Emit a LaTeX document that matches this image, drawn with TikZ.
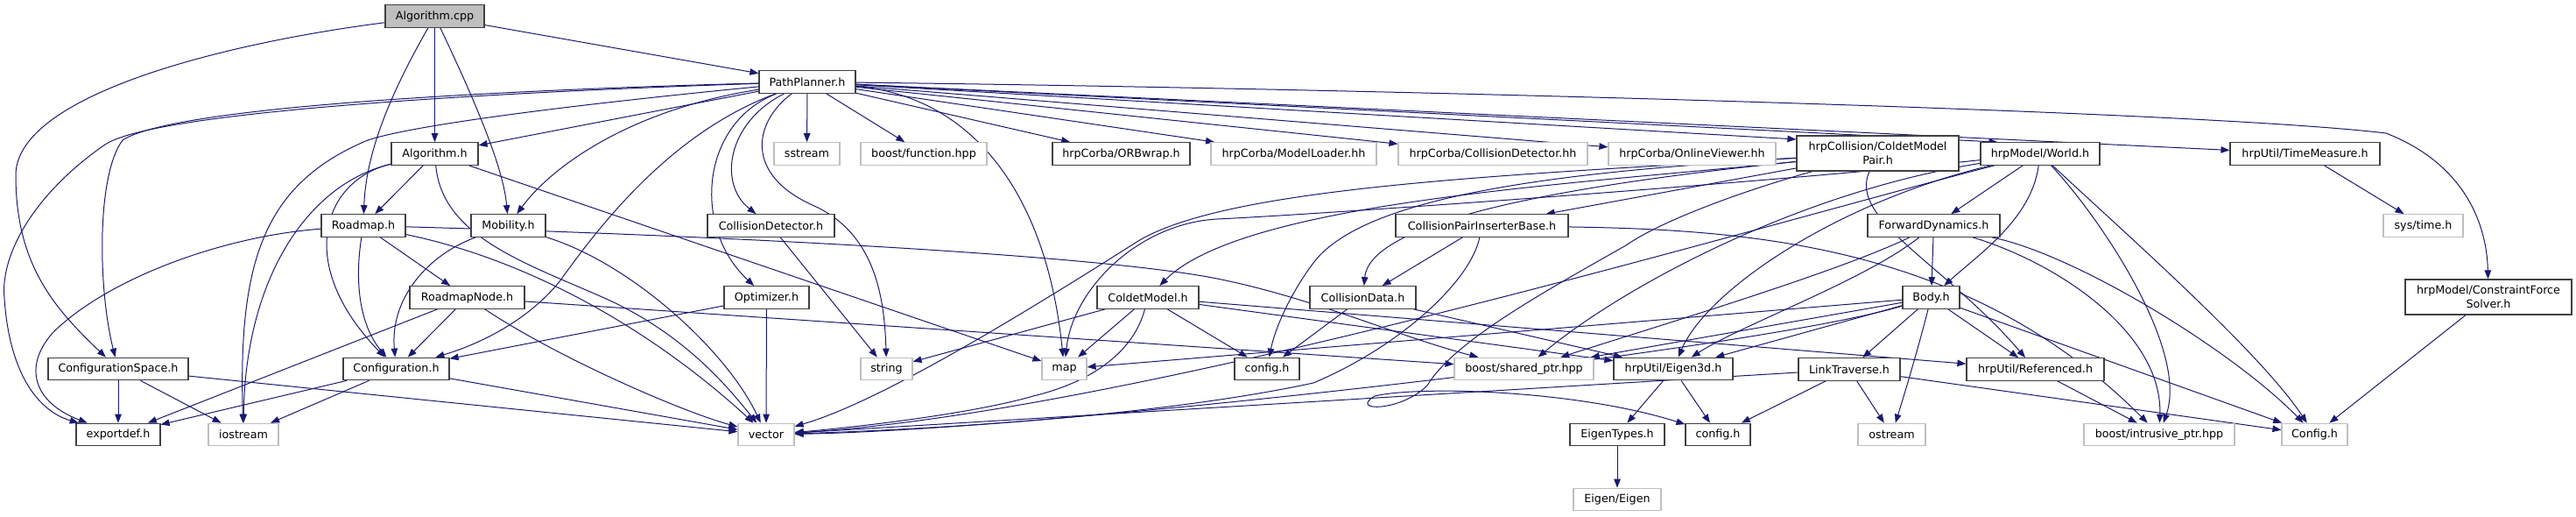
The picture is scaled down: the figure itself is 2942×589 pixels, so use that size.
\documentclass[tikz,border=0pt]{standalone}
\usepackage{fontspec}
\setmainfont{DejaVu Sans}
\usetikzlibrary{arrows.meta,calc}
\definecolor{edgec}{HTML}{191970}
\definecolor{docb}{HTML}{404040}
\definecolor{extb}{HTML}{BFBFBF}
\definecolor{srcf}{HTML}{BFBFBF}
\pgfdeclarelayer{edgelayer}
\pgfsetlayers{edgelayer,main}
\begin{document}
\begin{tikzpicture}[x=1pt,y=-1pt,
  doc/.style={draw=docb, line width=1.2pt, fill=white, font=\fontsize{12.7}{15.5}\selectfont,
    minimum height=25.5pt, inner xsep=2pt, inner ysep=0pt, align=center},
  ext/.style={doc, draw=extb},
  srcnode/.style={doc, fill=srcf},
  edge/.style={draw=edgec, line width=1pt, -{Triangle[length=10pt,width=7.5pt]}}]
\useasboundingbox (0,0) rectangle (2942,589);
% nodes
\node[srcnode, minimum width=113pt] (acpp) at (496.5,18.5) {Algorithm.cpp};
\node[doc, minimum width=110pt] (pp) at (922,93.5) {PathPlanner.h};
\node[doc, minimum width=99pt] (algh) at (496.5,175.5) {Algorithm.h};
\node[doc, minimum width=96pt] (roadmap) at (415,257.5) {Roadmap.h};
\node[doc, minimum width=85pt] (mobility) at (580.5,257.5) {Mobility.h};
\node[ext, minimum width=75pt] (sstream) at (921.5,175.5) {sstream};
\node[doc, minimum width=145pt] (colldet) at (880.5,257.5) {CollisionDetector.h};
\node[ext, minimum width=144pt] (bfunc) at (1055,175.5) {boost/function.hpp};
\node[doc, minimum width=157pt] (orb) at (1280.5,175.5) {hrpCorba/ORBwrap.h};
\node[ext, minimum width=189pt] (mload) at (1477.5,175.5) {hrpCorba/ModelLoader.hh};
\node[ext, minimum width=216pt] (cdhh) at (1705,175.5) {hrpCorba/CollisionDetector.hh};
\node[ext, minimum width=191pt] (ovhh) at (1932.5,175.5) {hrpCorba/OnlineViewer.hh};
\node[doc, minimum width=185pt, minimum height=40pt] (cmp) at (2144.5,175) {hrpCollision/ColdetModel\\Pair.h};
\node[doc, minimum width=136pt] (world) at (2330,175.5) {hrpModel/World.h};
\node[doc, minimum width=171pt] (tm) at (2632.5,175.5) {hrpUtil/TimeMeasure.h};
\node[ext, minimum width=91pt] (systime) at (2767.5,257.5) {sys/time.h};
\node[doc, minimum width=190pt, minimum height=40pt] (cfs) at (2842,339) {hrpModel/ConstraintForce\\Solver.h};
\node[ext, minimum width=75pt] (Config) at (2643.5,496) {Config.h};
\node[ext, minimum width=172pt] (intr) at (2466,496) {boost/intrusive\_ptr.hpp};
\node[doc, minimum width=151pt] (fd) at (2208.5,257.5) {ForwardDynamics.h};
\node[doc, minimum width=65pt] (body) at (2205.5,339.5) {Body.h};
\node[doc, minimum width=116pt] (lt) at (2112,421.5) {LinkTraverse.h};
\node[doc, minimum width=157pt] (ref) at (2324.5,421.5) {hrpUtil/Referenced.h};
\node[ext, minimum width=77pt] (ostream) at (2160.5,496) {ostream};
\node[doc, minimum width=74pt] (configB) at (1962,496) {config.h};
\node[doc, minimum width=136pt] (eigen3d) at (1911,421) {hrpUtil/Eigen3d.h};
\node[doc, minimum width=108pt] (etypes) at (1847,496) {EigenTypes.h};
\node[ext, minimum width=100pt] (eigen) at (1847,570) {Eigen/Eigen};
\node[ext, minimum width=159pt] (sptr) at (1740.5,421) {boost/shared\_ptr.hpp};
\node[doc, minimum width=121pt] (cdata) at (1556.5,339.5) {CollisionData.h};
\node[doc, minimum width=74pt] (configA) at (1447,421) {config.h};
\node[doc, minimum width=197pt] (cpib) at (1692.5,257.5) {CollisionPairInserterBase.h};
\node[doc, minimum width=116pt] (cmodel) at (1311,339.5) {ColdetModel.h};
\node[ext, minimum width=51pt] (map) at (1215.5,421) {map};
\node[ext, minimum width=59pt] (string) at (1012.5,421) {string};
\node[doc, minimum width=97pt] (opt) at (875.5,339.5) {Optimizer.h};
\node[ext, minimum width=64pt] (vector) at (875,496) {vector};
\node[doc, minimum width=131pt] (rmn) at (533.5,339.5) {RoadmapNode.h};
\node[doc, minimum width=121pt] (conf) at (452.5,421) {Configuration.h};
\node[doc, minimum width=160pt] (cspace) at (135,421) {ConfigurationSpace.h};
\node[doc, minimum width=96pt] (export) at (135,496) {exportdef.h};
\node[ext, minimum width=80pt] (iostream) at (278,496) {iostream};
\begin{pgfonlayer}{edgelayer}
% Algorithm.cpp
\draw[edge] (acpp) .. controls (250,50) and (18,110) .. (18,200) .. controls (18,300) and (60,350) .. (cspace);
\draw[edge] (acpp) .. controls (450,100) and (418,170) .. (roadmap);
\draw[edge] (acpp) -- (algh);
\draw[edge] (acpp) .. controls (540,110) and (575,190) .. (mobility);
\draw[edge] (acpp) -- (pp);
% PathPlanner.h
\draw[edge] (pp) .. controls (600,102) and (200,120) .. (140,160) .. controls (110,200) and (112,330) .. (cspace);
\draw[edge] (pp) .. controls (600,104) and (180,125) .. (120,165) .. controls (40,220) and (0,290) .. (5,340) .. controls (10,420) and (40,468) .. (export);
\draw[edge] (pp) .. controls (700,115) and (480,140) .. (420,160) .. controls (300,210) and (272,300) .. (iostream);
\draw[edge] (pp) -- (algh);
\draw[edge] (pp) .. controls (720,125) and (630,190) .. (mobility);
\draw[edge] (pp) .. controls (770,150) and (690,250) .. (640,320) .. controls (600,370) and (540,395) .. (conf);
\draw[edge] (pp) .. controls (800,140) and (790,260) .. (opt);
\draw[edge] (pp) .. controls (830,140) and (820,210) .. (colldet);
\draw[edge] (pp) .. controls (860,140) and (850,200) .. (930,235) .. controls (995,265) and (1010,330) .. (string);
\draw[edge] (pp) -- (sstream);
\draw[edge] (pp) -- (bfunc);
\draw[edge] (pp) .. controls (1110,110) and (1195,220) .. (map);
\draw[edge] (pp) -- (orb);
\draw[edge] (pp) -- (mload);
\draw[edge] (pp) -- (cdhh);
\draw[edge] (pp) -- (ovhh);
\draw[edge] (pp) -- ($(cmp.west)+(0,-16)$);
\draw[edge] (pp) -- ($(world.north west)+(20,0)$);
\draw[edge] (pp) -- (tm);
\draw[edge] (pp) .. controls (1500,100) and (2500,125) .. (2725,152) .. controls (2810,185) and (2840,250) .. (cfs);
% Algorithm.h
\draw[edge] (algh) -- (roadmap);
\draw[edge] (algh) .. controls (370,205) and (335,300) .. (conf);
\draw[edge] (algh) .. controls (350,210) and (280,320) .. (iostream);
\draw[edge] (algh) -- (map);
\draw[edge] (algh) .. controls (505,270) and (600,300) .. (690,340) .. controls (780,380) and (830,440) .. (vector);
% Roadmap.h
\draw[edge] (roadmap) .. controls (250,270) and (120,320) .. (60,380) .. controls (25,420) and (40,460) .. (export);
\draw[edge] (roadmap) .. controls (405,320) and (410,370) .. (conf);
\draw[edge] (roadmap) -- (rmn);
\draw[edge] (roadmap) .. controls (620,300) and (760,390) .. (vector);
\draw[edge] (roadmap) .. controls (800,268) and (1250,290) .. (1390,318) .. controls (1500,340) and (1600,385) .. (sptr);
% RoadmapNode.h
\draw[edge] (rmn) -- (export);
\draw[edge] (rmn) -- (conf);
\draw[edge] (rmn) .. controls (640,410) and (780,470) .. (vector);
\draw[edge] (rmn) -- (sptr);
% Mobility.h
\draw[edge] (mobility) .. controls (490,290) and (445,340) .. (conf);
\draw[edge] (mobility) .. controls (720,300) and (830,400) .. (vector);
% Optimizer.h
\draw[edge] (opt) -- (conf);
\draw[edge] (opt) -- (vector);
% ConfigurationSpace.h / Configuration.h
\draw[edge] (cspace) -- (export);
\draw[edge] (cspace) -- (iostream);
\draw[edge] (cspace) -- (vector);
\draw[edge] (conf) -- (export);
\draw[edge] (conf) -- (iostream);
\draw[edge] (conf) -- (vector);
% CollisionDetector.h
\draw[edge] (colldet) -- (string);
% ColdetModel.h
\draw[edge] (cmodel) -- (string);
\draw[edge] (cmodel) -- (map);
\draw[edge] (cmodel) .. controls (1295,400) and (1250,435) .. (1180,452) .. controls (1100,475) and (950,490) .. (vector);
\draw[edge] (cmodel) -- (configA);
\draw[edge] (cmodel) -- (eigen3d);
\draw[edge] (cmodel) -- (ref);
% CollisionData.h
\draw[edge] (cdata) -- (configA);
\draw[edge] (cdata) -- (eigen3d);
% CollisionPairInserterBase.h
\draw[edge] (cpib) -- (cdata);
\draw[edge] (cpib) .. controls (1680,320) and (1600,395) .. (1500,437) .. controls (1300,480) and (1000,492) .. (vector);
\draw[edge] (cpib) .. controls (2000,262) and (2250,280) .. (intr);
% ColdetModelPair.h
\draw[edge] (cmp) .. controls (1800,210) and (1420,230) .. (cmodel);
\draw[edge] (cmp) .. controls (1800,210) and (1565,250) .. (cdata);
\draw[edge] (cmp) -- (cpib);
\draw[edge] (cmp) .. controls (1800,195) and (1560,220) .. (1500,300) .. controls (1470,340) and (1455,380) .. (configA);
\draw[edge] (cmp) .. controls (2000,215) and (1900,250) .. (1857,280) .. controls (1760,335) and (1660,390) .. (1630,440) .. controls (1600,470) and (1540,470) .. (1570,452) .. controls (1620,440) and (1800,445) .. (configB);
\draw[edge] (cmp) .. controls (1700,200) and (1400,215) .. (1300,275) .. controls (1150,370) and (1000,460) .. (vector);
\draw[edge] (cmp) .. controls (2110,250) and (2220,300) .. (ref);
% World.h
\draw[edge] (world) -- (fd);
\draw[edge] (world) .. controls (2320,250) and (2260,290) .. (body);
\draw[edge] (world) .. controls (2000,210) and (1500,245) .. (1390,250) .. controls (1300,255) and (1225,330) .. (map);
\draw[edge] (world) .. controls (2000,260) and (1300,470) .. (vector);
\draw[edge] (world) .. controls (2050,220) and (1850,330) .. (sptr);
\draw[edge] (world) .. controls (2100,230) and (1950,330) .. (eigen3d);
\draw[edge] (world) .. controls (2400,250) and (2500,400) .. (intr);
\draw[edge] (world) .. controls (2420,260) and (2580,400) .. (Config);
% ForwardDynamics.h
\draw[edge] (fd) -- (body);
\draw[edge] (fd) .. controls (2100,310) and (1900,370) .. (sptr);
\draw[edge] (fd) .. controls (2130,320) and (1990,370) .. (eigen3d);
\draw[edge] (fd) .. controls (2350,300) and (2470,380) .. (intr);
\draw[edge] (fd) .. controls (2370,290) and (2550,400) .. (Config);
% Body.h
\draw[edge] (body) -- (map);
\draw[edge] (body) .. controls (2000,400) and (1200,490) .. (vector);
\draw[edge] (body) -- (sptr);
\draw[edge] (body) -- (eigen3d);
\draw[edge] (body) -- (lt);
\draw[edge] (body) .. controls (2190,400) and (2175,450) .. (ostream);
\draw[edge] (body) -- (ref);
\draw[edge] (body) -- (Config);
% LinkTraverse.h
\draw[edge] (lt) -- (vector);
\draw[edge] (lt) -- (configB);
\draw[edge] (lt) -- (ostream);
\draw[edge] (lt) -- (Config);
% others
\draw[edge] (ref) -- (intr);
\draw[edge] (eigen3d) -- (etypes);
\draw[edge] (eigen3d) -- (configB);
\draw[edge] (etypes) -- (eigen);
\draw[edge] (tm) -- (systime);
\draw[edge] (cfs) -- (Config);
\end{pgfonlayer}
\end{tikzpicture}
\end{document}
